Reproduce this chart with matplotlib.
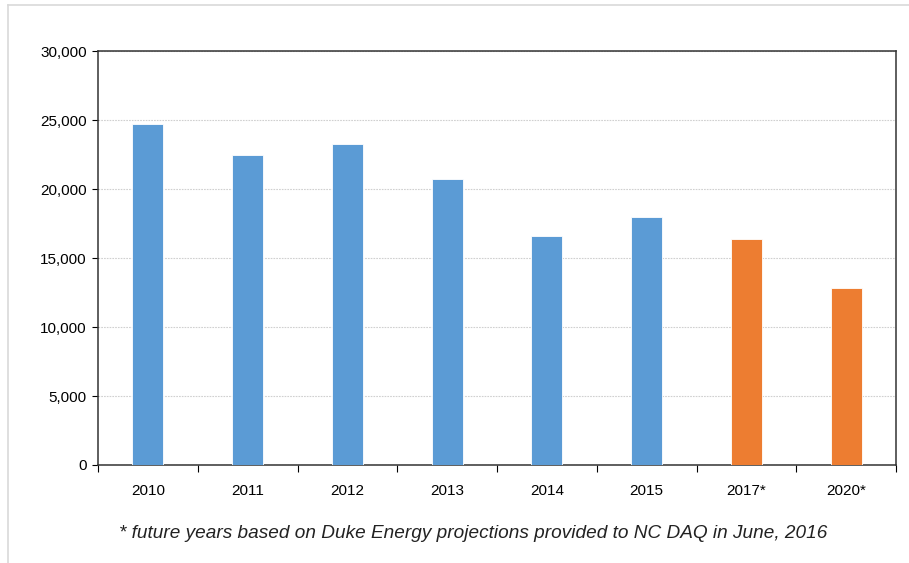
import matplotlib.pyplot as plt
from matplotlib.ticker import FuncFormatter, MultipleLocator
from matplotlib.lines import Line2D

years = ["2010", "2011", "2012", "2013", "2014", "2015", "2017*", "2020*"]
values = [24700, 22440, 23250, 20700, 16600, 18000, 16400, 12850]
projected = [False, False, False, False, False, False, True, True]
footnote = "* future years based on Duke Energy projections provided to NC DAQ in June, 2016"

BLUE = "#5B9BD5"
ORANGE = "#ED7D31"

plt.rcParams["font.family"] = ["Liberation Sans", "DejaVu Sans"]

fig = plt.figure(figsize=(9.09, 5.63), dpi=100)
ax = fig.add_axes([98 / 909, 1 - 465 / 563, 798 / 909, 414 / 563])

colors = [ORANGE if p else BLUE for p in projected]
x = range(len(years))
ax.bar(x, values, width=0.31, color=colors, edgecolor="white", linewidth=0.6, zorder=3)

ax.set_xlim(-0.5, len(years) - 0.5)
ax.set_ylim(0, 30000)
ax.yaxis.set_major_locator(MultipleLocator(5000))
ax.yaxis.set_major_formatter(FuncFormatter(lambda v, _: f"{int(v):,}"))
ax.grid(axis="y", color="#d0d0d0", linestyle=(0, (1.5, 1)), linewidth=0.8, zorder=0)

ax.set_xticks(list(x))
ax.set_xticklabels(years)
ax.set_xticks([i - 0.5 for i in range(len(years) + 1)], minor=True)
ax.tick_params(axis="x", which="major", length=0, pad=14, labelsize=11)
ax.tick_params(axis="x", which="minor", length=5, direction="out", width=0.8)
ax.tick_params(axis="y", length=4, direction="out", width=0.8, labelsize=11, pad=4)

for s in ax.spines.values():
    s.set_color("#333333")
    s.set_linewidth(1.1)

fig.text(473 / 909, 1 - 533 / 563, footnote, ha="center", va="center",
         style="italic", fontsize=13.7, color="#222222")

# light outer frame (only top and left edges are visible)
fig.add_artist(Line2D([8 / 909, 1], [1 - 5 / 563] * 2, transform=fig.transFigure,
                      color="#d9d9d9", linewidth=1.2))
fig.add_artist(Line2D([8 / 909] * 2, [0, 1 - 5 / 563], transform=fig.transFigure,
                      color="#d9d9d9", linewidth=1.2))

fig.savefig("out.png", dpi=100, facecolor="white")
